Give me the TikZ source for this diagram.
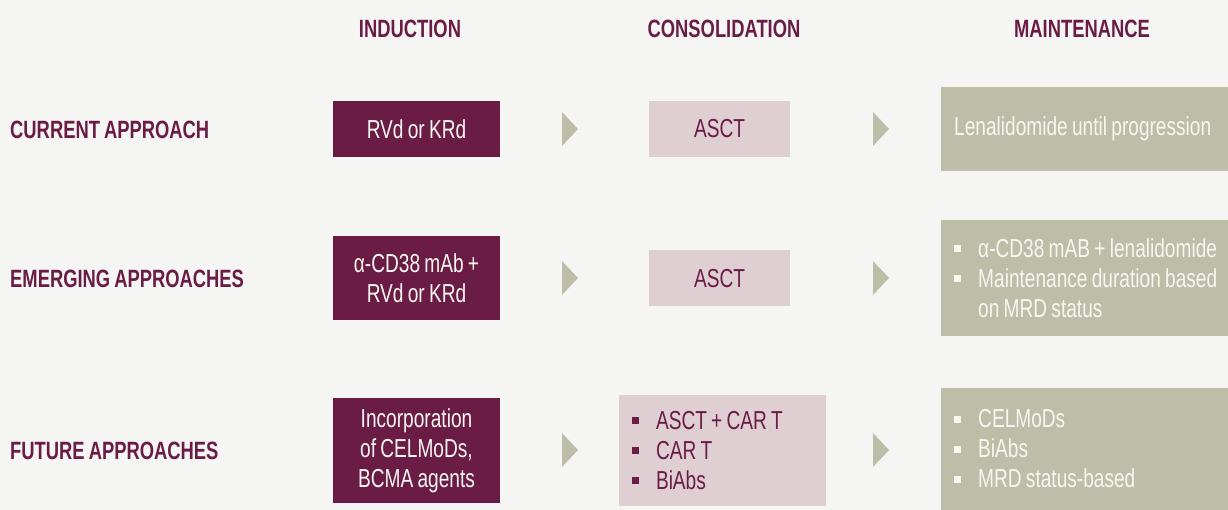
\documentclass[tikz,border=0pt]{standalone}
\usepackage{fontspec}
\setmainfont{Liberation Sans}[FakeStretch=0.735, WordSpace=0.8]
\usepackage{tikz}

\definecolor{plum}{HTML}{6A1C45}
\definecolor{blush}{HTML}{DFCFD3}
\definecolor{sage}{HTML}{BDBEA8}
\definecolor{paper}{HTML}{F5F5F3}
\definecolor{chalk}{HTML}{F7F6F0}

\newcommand{\bodyfont}{\fontsize{26}{30}\selectfont}
\newcommand{\sqbullet}[1]{\makebox[24pt][l]{\textcolor{#1}{\rule[5pt]{7pt}{7pt}}}}

\tikzset{
  phase/.style={text=plum, inner sep=0, font=\bfseries\fontsize{25}{28}\selectfont},
  rowlabel/.style={phase, anchor=west},
  indbox/.style={fill=plum, text=chalk, minimum width=167pt, inner sep=0, align=center, font=\bodyfont},
  conbox/.style={fill=blush, text=plum, minimum width=141pt, minimum height=56pt, inner sep=0, align=center, font=\bodyfont},
  mainbox/.style={fill=sage, text=chalk, anchor=west, text width=420pt, inner xsep=13pt, inner ysep=0, align=flush left, font=\bodyfont},
  chevron/.style={fill=sage}
}

\begin{document}
\begin{tikzpicture}[x=1pt, y=-1pt]
        \clip (0, 0) rectangle (1228, 510);
        \fill [paper] (0, 0) rectangle (1228, 510);

        % column headers
        \node [phase] (hind) at (410, 29) {INDUCTION};
        \node [phase] (hcon) at (724, 29) {CONSOLIDATION};
        \node [phase] (hmain) at (1082, 29) {MAINTENANCE};

        % row labels
        \node [rowlabel] (rcur) at (10, 130) {CURRENT APPROACH};
        \node [rowlabel] (remg) at (10, 279) {EMERGING APPROACHES};
        \node [rowlabel] (rfut) at (10, 451) {FUTURE APPROACHES};

        % induction
        \node [indbox, minimum height=56pt] (ind1) at (416.5, 129) {RVd or KRd};
        \node [indbox, minimum height=84pt] (ind2) at (416.5, 278) {α-CD38 mAb +\\RVd or KRd};
        \node [indbox, minimum height=105pt] (ind3) at (416.5, 450.5) {Incorporation\\of CELMoDs,\\BCMA agents};

        % consolidation
        \node [conbox] (con1) at (719.5, 129) {ASCT};
        \node [conbox] (con2) at (719.5, 278.5) {ASCT};
        \node [conbox, minimum width=207pt, minimum height=111pt, text width=181pt, align=flush left] (con3) at (722.5, 450.5)
          {\sqbullet{plum}ASCT + CAR T\\\sqbullet{plum}CAR T\\\sqbullet{plum}BiAbs};

        % maintenance
        \node [mainbox, minimum height=84pt] (main1) at (941, 129) {Lenalidomide until progression};
        \node [mainbox, minimum height=116pt] (main2) at (941, 278)
          {\sqbullet{chalk}α-CD38 mAB + lenalidomide\\\sqbullet{chalk}Maintenance duration based\\\makebox[24pt]{}on MRD status};
        \node [mainbox, minimum height=122pt] (main3) at (941, 449)
          {\sqbullet{chalk}CELMoDs\\\sqbullet{chalk}BiAbs\\\sqbullet{chalk}MRD status-based};

        % chevrons
        \fill [chevron] (562, 112) -- (578, 129) -- (562, 146) -- cycle;
        \fill [chevron] (873, 112) -- (889, 129) -- (873, 146) -- cycle;
        \fill [chevron] (562, 261) -- (578, 278) -- (562, 295) -- cycle;
        \fill [chevron] (873, 261) -- (889, 278) -- (873, 295) -- cycle;
        \fill [chevron] (562, 433) -- (578, 450) -- (562, 467) -- cycle;
        \fill [chevron] (873, 433) -- (889, 450) -- (873, 467) -- cycle;
\end{tikzpicture}
\end{document}
